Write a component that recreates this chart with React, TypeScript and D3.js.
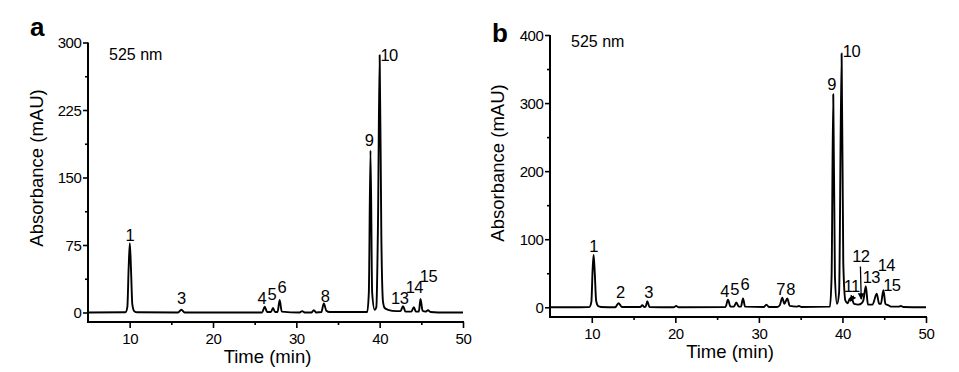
import React, { useRef, useEffect } from 'react';
import * as d3 from 'd3';

// chromatogram traces: [time (min), absorbance (mAU)]
const traceA: [number, number][] = [
  [5, 0], [9.5, 0.3], [9.72, 6], [9.88, 50], [10.02, 77], [10.16, 48], [10.32, 9], [10.55, 1.5], [10.9, 0.3],
  [15.8, 0], [16.2, 3], [16.6, 0], [25.9, 0], [26.2, 6.5], [26.5, 0.5], [26.95, 0.5], [27.2, 5],
  [27.45, 0.5], [27.75, 0.5], [28.0, 14], [28.25, 1], [30.4, 0], [30.7, 1.5], [31, 0], [31.8, 0],
  [32.1, 2.5], [32.4, 0], [33.0, 0.5], [33.3, 10], [33.6, 2], [34, 0.5], [38.5, 0.5], [38.7, 22],
  [38.9, 180], [39.1, 22], [39.4, 3], [39.6, 6], [39.8, 100], [40.0, 286], [40.2, 85], [40.4, 12],
  [40.6, 5], [41, 3], [42, 1.5], [42.5, 1.5], [42.8, 7], [43.1, 1], [43.8, 1], [44.1, 6],
  [44.35, 1], [44.7, 1], [44.9, 15], [45.15, 2], [45.5, 1], [45.8, 2.5], [46.1, 0.5], [47, 0], [50, 0],
];

const traceB: [number, number][] = [
  [5, 0], [9.7, 0.3], [9.95, 8], [10.1, 55], [10.22, 77], [10.36, 50], [10.52, 10], [10.75, 2], [11.1, 0.5],
  [12.8, 0], [13.2, 6], [13.6, 0.5], [15.8, 0.5], [16.05, 3], [16.3, 0.5], [16.45, 1], [16.65, 9],
  [16.9, 0.5], [19.8, 0], [20.1, 2], [20.4, 0], [26.0, 0.5], [26.3, 11], [26.6, 1], [27.0, 1],
  [27.3, 7], [27.6, 1], [27.85, 1], [28.1, 13], [28.35, 1], [30.6, 0.5], [30.9, 4], [31.2, 0.5],
  [32.2, 0.5], [32.5, 3], [32.8, 14], [33.05, 5], [33.4, 13], [33.7, 2], [34.5, 1], [34.8, 2],
  [35.1, 0.5], [38.5, 1], [38.7, 45], [38.9, 313], [39.1, 45], [39.35, 5], [39.6, 22], [39.9, 373],
  [40.1, 65], [40.35, 10], [40.6, 6], [40.85, 12], [41.05, 14], [41.4, 5], [41.9, 4], [42.3, 6],
  [42.5, 10], [42.8, 31], [43.05, 4], [43.6, 4], [44.1, 20], [44.4, 5], [44.6, 5], [44.9, 25],
  [45.15, 5], [45.5, 3], [45.8, 1], [46.7, 1], [47, 2], [47.3, 0.5], [50, 0],
];

// peak labels: name, time, absorbance of the label baseline, anchor
const labelsA: [string, number, number, string][] = [
  ['1', 10.0, 80, 'middle'], ['3', 16.2, 9.5, 'middle'], ['4', 25.85, 9.5, 'middle'],
  ['5', 27.05, 14, 'middle'], ['6', 28.25, 21.5, 'middle'], ['8', 33.45, 12, 'middle'],
  ['9', 38.72, 185, 'middle'], ['10', 40.1, 280, 'start'], ['13', 42.4, 9.5, 'middle'],
  ['14', 44.15, 22, 'middle'], ['15', 45.85, 34, 'middle'],
];

const labelsB: [string, number, number, string][] = [
  ['1', 10.2, 81, 'middle'], ['2', 13.4, 13, 'middle'], ['3', 16.8, 13, 'middle'],
  ['4', 25.9, 15, 'middle'], ['5', 27.1, 17.5, 'middle'], ['6', 28.3, 25, 'middle'],
  ['7', 32.6, 17.5, 'middle'], ['8', 33.8, 17.5, 'middle'], ['9', 38.7, 319, 'middle'],
  ['10', 40.05, 368, 'start'], ['11', 41.1, 22.5, 'middle'], ['12', 42.2, 66, 'middle'],
  ['13', 43.45, 36, 'middle'], ['14', 45.25, 53, 'middle'], ['15', 45.9, 24, 'middle'],
];

// arrows in panel b: [t0, a0, t1, a1]
const arrowsB: [number, number, number, number][] = [
  [41.35, 17, 40.95, 9],
  [42.15, 60, 42.25, 12],
];

const xTicks = [10, 20, 30, 40, 50];
const xMinor = [15, 25, 35, 45];
const yTicksA = [0, 75, 150, 225, 300];
const yMinorA = [37.5, 112.5, 187.5, 262.5];
const yTicksB = [0, 100, 200, 300, 400];
const yMinorB = [50, 150, 250, 350];

const font = 'Arial, "Liberation Sans", sans-serif';

function drawPanel(svg: any, o: any) {
  const x = d3.scaleLinear().domain([5, 50]).range([o.x0, o.x1]);
  const y = d3.scaleLinear().domain([0, o.yMax]).range([o.y0, o.yTop]);
  const g = svg.append('g');

  const yAxis = g.append('g').attr('transform', `translate(${o.x0},0)`)
    .call(d3.axisLeft(y).tickValues(o.yTicks).tickSize(5).tickPadding(1.5));
  g.append('g').attr('transform', `translate(${o.x0},0)`)
    .call(d3.axisLeft(y).tickValues(o.yMinor).tickSize(3).tickFormat(() => ''));
  const xAxis = g.append('g').attr('transform', `translate(0,${o.axisY})`)
    .call(d3.axisBottom(x).tickValues(xTicks).tickSize(6).tickPadding(5));
  g.append('g').attr('transform', `translate(0,${o.axisY})`)
    .call(d3.axisBottom(x).tickValues(xMinor).tickSize(3).tickFormat(() => ''));

  g.selectAll('.domain').remove();
  g.selectAll('.tick line').attr('stroke', '#000').attr('stroke-width', 1.6);
  g.selectAll('.tick text').attr('font-family', font).attr('font-size', 15)
    .attr('fill', '#000').attr('letter-spacing', -0.4);
  yAxis.selectAll('.tick text').attr('dy', '0.36em');
  xAxis.selectAll('.tick text').attr('dy', '0.75em');

  g.append('line').attr('x1', o.x0).attr('x2', o.x0).attr('y1', y(o.yMax)).attr('y2', o.axisY + 1)
    .attr('stroke', '#000').attr('stroke-width', 2);
  g.append('line').attr('x1', o.x0).attr('x2', o.x1 + 1).attr('y1', o.axisY).attr('y2', o.axisY)
    .attr('stroke', '#000').attr('stroke-width', 2);

  const line = d3.line<[number, number]>().x(d => x(d[0])).y(d => y(d[1])).curve(d3.curveMonotoneX);
  g.append('path').attr('d', line(o.trace)).attr('fill', 'none')
    .attr('stroke', '#000').attr('stroke-width', 1.9).attr('stroke-linejoin', 'round');

  g.selectAll('.peak').data(o.labels).enter().append('text')
    .attr('x', (d: any) => x(d[1])).attr('y', (d: any) => y(d[2]))
    .attr('text-anchor', (d: any) => d[3])
    .attr('font-family', font).attr('font-size', 16.5).attr('fill', '#000')
    .attr('letter-spacing', -0.6)
    .text((d: any) => d[0]);

  g.selectAll('.arrow').data(o.arrows || []).enter().append('line')
    .attr('x1', (d: any) => x(d[0])).attr('y1', (d: any) => y(d[1]))
    .attr('x2', (d: any) => x(d[2])).attr('y2', (d: any) => y(d[3]))
    .attr('stroke', '#000').attr('stroke-width', 1.3).attr('marker-end', 'url(#arr)');

  g.append('text').attr('x', o.x0 + 21).attr('y', o.nmY).attr('font-family', font)
    .attr('font-size', 16).text('525 nm');
  g.append('text').attr('x', o.letterX).attr('y', o.letterY).attr('font-family', font)
    .attr('font-size', 26).attr('font-weight', 'bold').text(o.letter);
  g.append('text').attr('x', (o.x0 + o.x1) / 2 - 8).attr('y', o.titleY).attr('text-anchor', 'middle')
    .attr('font-family', font).attr('font-size', 18.5).text('Time (min)');
  g.append('text').attr('transform', `translate(${o.yLabelX},${o.yLabelY}) rotate(-90)`)
    .attr('text-anchor', 'middle').attr('font-family', font).attr('font-size', 18.5)
    .text('Absorbance (mAU)');
}

export default function App() {
  const ref = useRef<SVGSVGElement>(null);

  useEffect(() => {
    const svg = d3.select(ref.current);
    svg.selectAll('*').remove();
    svg.append('defs').append('marker').attr('id', 'arr').attr('viewBox', '0 0 10 10')
      .attr('refX', 9).attr('refY', 5).attr('markerWidth', 5).attr('markerHeight', 5)
      .attr('orient', 'auto').append('path').attr('d', 'M0,0L10,5L0,10z').attr('fill', '#000');

    drawPanel(svg, {
      x0: 88, x1: 463, y0: 312.5, yTop: 42.5, yMax: 300, axisY: 322,
      yTicks: yTicksA, yMinor: yMinorA, trace: traceA, labels: labelsA,
      nmY: 60, letter: 'a', letterX: 30, letterY: 36, titleY: 363, yLabelX: 43, yLabelY: 168,
    });
    drawPanel(svg, {
      x0: 550, x1: 926, y0: 307.3, yTop: 35, yMax: 400, axisY: 317,
      yTicks: yTicksB, yMinor: yMinorB, trace: traceB, labels: labelsB, arrows: arrowsB,
      nmY: 47, letter: 'b', letterX: 492, letterY: 42, titleY: 358, yLabelX: 504, yLabelY: 163,
    });
  }, []);

  return (
    <svg ref={ref} width={959} height={372}
      style={{ position: 'absolute', left: 0, top: 0, background: '#fff' }} />
  );
}
